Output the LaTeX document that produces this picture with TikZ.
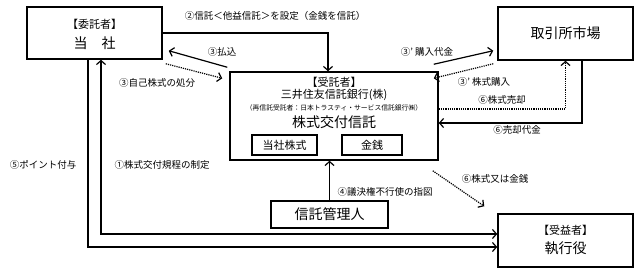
\documentclass[tikz,border=0pt]{standalone}
\usepackage{fontspec}
\setmainfont{Noto Sans CJK JP}
\usetikzlibrary{arrows.meta}
\begin{document}
\begin{tikzpicture}[x=1pt,y=-1pt,
  box/.style={draw,line width=1.5pt,inner sep=0pt,minimum width=#1},
  lbl/.style={font=\fontsize{9.5}{10}\selectfont,inner sep=0pt},
  big/.style={font=\fontsize{14}{15}\selectfont,inner sep=0pt},
  mid/.style={font=\fontsize{11}{12}\selectfont,inner sep=0pt},
  arr/.style={line width=1.2pt,-{Straight Barb[length=4pt,width=9pt]}},
  dotarr/.style={line width=1.2pt,densely dotted,-{Straight Barb[length=4pt,width=9pt]}},
  dbl/.style={line width=1.2pt,{Straight Barb[length=4pt,width=9pt]}-{Straight Barb[length=4pt,width=9pt]}},
  ln/.style={line width=1.2pt}]
\useasboundingbox (0,0) rectangle (640,273);
% boxes
\node[box=135pt,minimum height=52pt] (tosha) at (94.5,33) {};
\node[box=135pt,minimum height=53pt] (torihiki) at (565.5,33.5) {};
\node[box=208pt,minimum height=88pt] (trustee) at (334,116) {};
\node[box=65pt,minimum height=20pt] (kabu) at (284.5,145) {};
\node[box=60pt,minimum height=20pt] (kinsen) at (372,145) {};
\node[box=117pt,minimum height=27pt] (shinkan) at (329.5,214.5) {};
\node[box=135pt,minimum height=53pt] (jueki) at (565.5,240.5) {};
% box texts
\node[mid] (t1) at (94.5,24) {【委託者】};
\node[big] (t2) at (94.5,43) {当　社};
\node[big] (t3) at (565.5,33.5) {取引所市場};
\node[mid] (t4) at (334,82) {【受託者】};
\node[mid] (t5) at (334,95) {三井住友信託銀行(株)};
\node[font=\fontsize{6.8}{7}\selectfont,inner sep=0pt] (t6) at (334,107.5) {（再信託受託者：日本トラスティ・サービス信託銀行㈱）};
\node[big] (t7) at (334,122) {株式交付信託};
\node[mid] (t8) at (kabu) {当社株式};
\node[mid] (t9) at (kinsen) {金銭};
\node[big] (t10) at (shinkan) {信託管理人};
\node[mid] (t11) at (565.5,230) {【受益者】};
\node[big] (t12) at (565.5,248) {執行役};
% connectors
\draw[arr] (tosha.east) -| ([xshift=-6pt]trustee.north);
\draw[arr] ([shift={(-2,-4)}]trustee.north west) -- ([shift={(6,-9)}]tosha.south east);
\draw[dotarr] ([shift={(3,4)}]tosha.south east) -- ([shift={(-7,7)}]trustee.north west);
\draw[arr] ([shift={(-5,-7)}]trustee.north east) -- ([shift={(-4,-10)}]torihiki.south west);
\draw[dotarr] ([shift={(-4,3)}]torihiki.south west) -- ([shift={(-5,7)}]trustee.north east);
\draw[dotarr] ([yshift=7pt]trustee.east) -| (torihiki.south);
\draw[arr] ([xshift=16.5pt]torihiki.south) |- ([yshift=-7pt]trustee.east);
\draw[dotarr] ([shift={(-6,10)}]trustee.south east) -- ([shift={(-13,-7)}]jueki.north west);
\draw[arr] (shinkan.north) -- (shinkan.north |- trustee.south);
\draw[arr] ([xshift=-6.5pt]tosha.south) |- ([yshift=-6.5pt]jueki.west);
\draw[dbl] ([xshift=6.5pt]tosha.south) |- ([yshift=6.5pt]jueki.west);
% labels
\node[lbl] (l2) at (275,16) {②信託＜他益信託＞を設定（金銭を信託）};
\node[lbl] (l3a) at (222,52) {③払込};
\node[lbl] (l3b) at (157,83) {③自己株式の処分};
\node[lbl] (l3c) at (427,52) {③’ 購入代金};
\node[lbl] (l3d) at (484,82) {③’ 株式購入};
\node[lbl] (l6a) at (502,100) {⑥株式売却};
\node[lbl] (l6b) at (517,130) {⑥売却代金};
\node[lbl] (l6c) at (495,179) {⑥株式又は金銭};
\node[lbl] (l4) at (385,192) {④議決権不行使の指図};
\node[lbl] (l5) at (43,165) {⑤ポイント付与};
\node[lbl] (l1) at (162,165) {①株式交付規程の制定};
\end{tikzpicture}
\end{document}
